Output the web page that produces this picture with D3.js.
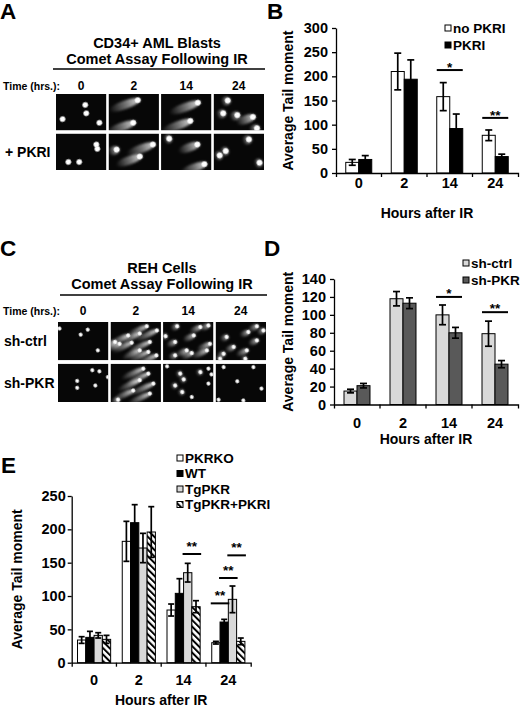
<!DOCTYPE html>
<html>
<head>
<meta charset="utf-8">
<script src="https://cdn.jsdelivr.net/npm/d3@7"></script>
<style>
  body { margin: 0; background: #fff; }
  text { font-family: "Liberation Sans", Arial, sans-serif; font-weight: bold; fill: #000; }
</style>
</head>
<body>
<div id="fig"></div>
<script>
// ---------- data ----------
var hours = ["0", "2", "14", "24"];

// panel A : comets as [x fraction, y fraction, tail length fraction]
var aRows = ["", "+ PKRI"];
var aNoPkri = [
  [[0.58, 0.30, 0], [0.60, 0.53, 0], [0.13, 0.69, 0], [0.86, 0.79, 0]],
  [[0.58, 0.17, 0.55], [0.49, 0.79, 0.5]],
  [[0.73, 0.24, 0.55], [0.58, 0.74, 0.55]],
  [[0.28, 0.18, 0.08], [0.19, 0.53, 0.08], [0.47, 0.58, 0.1], [0.78, 0.63, 0.3], [0.86, 0.94, 0.1]]
];
var aPkri = [
  [[0.80, 0.30, 0], [0.82, 0.42, 0], [0.245, 0.78, 0], [0.46, 0.78, 0]],
  [[0.16, 0.44, 0.12], [0.88, 0.30, 0.5], [0.62, 0.63, 0.45]],
  [[0.16, 0.14, 0.05], [0.72, 0.30, 0.35], [0.86, 0.84, 0.45]],
  [[0.70, 0.16, 0.08], [0.24, 0.48, 0.05], [0.12, 0.60, 0.05], [0.91, 0.80, 0.05]]
];

// panel B
var bSeries = ["no PKRI", "PKRI"];
var bMean = [[22, 210, 158, 78], [28, 194, 92, 34]];
var bErr = [[6, 38, 29, 11], [8, 40, 30, 5]];
var bTicks = [0, 50, 100, 150, 200, 250, 300];
var bSig = [{hour: "14", a: 0, b: 1, v: 213, label: "*"}, {hour: "24", a: 0, b: 1, v: 114, label: "**"}];

// panel C
var cRows = ["sh-ctrl", "sh-PKR"];
var cCtrl = [
  [[0.59, 0.2, 0], [0.45, 0.33, 0], [0.79, 0.74, 0], [0.03, 0.17, 0]],
  [[0.72, 0.11, 0.4], [0.92, 0.22, 0.45], [0.58, 0.30, 0.4], [0.35, 0.35, 0.35], [0.09, 0.52, 0.2], [0.42, 0.54, 0.4],
   [0.78, 0.52, 0.45], [0.58, 0.74, 0.35], [0.75, 0.78, 0.4], [0.91, 0.87, 0.4], [0.18, 0.57, 0.25]],
  [[0.28, 0.11, 0.1], [0.74, 0.13, 0.2], [0.90, 0.09, 0.15], [0.05, 0.37, 0.05], [0.61, 0.35, 0.2], [0.24, 0.52, 0.15],
   [0.93, 0.57, 0.25], [0.47, 0.74, 0.2], [0.87, 0.74, 0.3], [0.57, 0.81, 0.2], [0.24, 0.87, 0.1]],
  [[0.82, 0.11, 0.15], [0.65, 0.26, 0.15], [0.95, 0.22, 0.1], [0.22, 0.39, 0.1], [0.82, 0.48, 0.15], [0.36, 0.65, 0.15],
   [0.62, 0.74, 0.2], [0.16, 0.83, 0.1], [0.09, 0.96, 0.05], [0.59, 0.96, 0.05]]
];
var cPkr = [
  [[0.68, 0.17, 0], [0.82, 0.20, 0], [0.38, 0.45, 0], [0.38, 0.63, 0], [0.74, 0.57, 0], [0.99, 0.35, 0]],
  [[0.65, 0.13, 0.45], [0.75, 0.26, 0.45], [0.58, 0.43, 0.45], [0.85, 0.52, 0.5], [0.45, 0.70, 0.4], [0.78, 0.78, 0.45], [0.15, 0.94, 0.1]],
  [[0.08, 0.07, 0], [0.34, 0.26, 0.05], [0.74, 0.22, 0.05], [0.90, 0.13, 0], [0.96, 0.28, 0], [0.41, 0.41, 0.05],
   [0.24, 0.57, 0.05], [0.38, 0.74, 0.05], [0.57, 0.87, 0], [0.90, 0.52, 0]],
  [[0.16, 0.09, 0], [0.75, 0.09, 0], [0.43, 0.46, 0], [0.91, 0.65, 0], [0.06, 0.94, 0], [0.55, 0.96, 0]]
];

// panel D
var dSeries = ["sh-ctrl", "sh-PKR"];
var dMean = [[15, 118, 100, 79], [21, 113, 80, 45]];
var dErr = [[2, 8, 11, 14], [2.5, 6, 6, 4]];
var dTicks = [0, 20, 40, 60, 80, 100, 120, 140];
var dSig = [{hour: "14", a: 0, b: 1, v: 120, label: "*"}, {hour: "24", a: 0, b: 1, v: 103, label: "**"}];

// panel E
var eSeries = ["PKRKO", "WT", "TgPKR", "TgPKR+PKRI"];
var eMean = [[34, 182, 79, 30], [38, 210, 104, 61], [41, 172, 135, 95], [35, 196, 84, 32]];
var eErr = [[5, 30, 9, 2], [9, 27, 22, 4], [4, 22, 14, 20], [6, 38, 9, 5]];
var eTicks = [0, 50, 100, 150, 200, 250];
var eSig = [
  {hour: "14", a: 2, b: 3, v: 163, label: "**"},
  {hour: "24", a: 2, b: 3, v: 161, label: "**"},
  {hour: "24", a: 1, b: 2, v: 127, label: "**"},
  {hour: "24", a: 0, b: 1, v: 89, label: "**"}
];

// ---------- svg ----------
var svg = d3.select("#fig").append("svg").attr("width", 520).attr("height", 708);
var defs = svg.append("defs");

var pat = defs.append("pattern").attr("id", "hatch").attr("patternUnits", "userSpaceOnUse")
  .attr("width", 4.6).attr("height", 4.6).attr("patternTransform", "rotate(-45)");
pat.append("rect").attr("width", 4.6).attr("height", 4.6).attr("fill", "#fff");
pat.append("rect").attr("width", 2).attr("height", 4.6).attr("fill", "#000");

var grad = defs.append("linearGradient").attr("id", "tail");
grad.append("stop").attr("offset", "0").attr("stop-color", "#fff").attr("stop-opacity", 0.9);
grad.append("stop").attr("offset", "0.45").attr("stop-color", "#fff").attr("stop-opacity", 0.45);
grad.append("stop").attr("offset", "1").attr("stop-color", "#fff").attr("stop-opacity", 0);

defs.append("filter").attr("id", "blur").attr("x", "-50%").attr("y", "-150%").attr("width", "200%").attr("height", "400%")
  .append("feGaussianBlur").attr("stdDeviation", 1.3);
defs.append("filter").attr("id", "soft").attr("x", "-100%").attr("y", "-100%").attr("width", "300%").attr("height", "300%")
  .append("feGaussianBlur").attr("stdDeviation", 0.5);

function letter(t, x, y) {
  svg.append("text").attr("x", x).attr("y", y).attr("font-size", 22.5).text(t);
}

// micrograph panels
function drawComets(o) {
  var col = d3.scaleBand().domain(hours).range([o.x0, o.x1]).paddingInner(0.04);
  var row = d3.scaleBand().domain(o.rows).range([o.y0, o.y1]).paddingInner(0.08);

  o.title.forEach(function(t, i) {
    svg.append("text").attr("x", o.titleX).attr("y", o.titleY + i * 16)
      .attr("text-anchor", "middle").attr("font-size", 14.5).text(t);
  });
  svg.append("line").attr("x1", o.lineX0).attr("x2", o.x1 + 1).attr("y1", o.lineY).attr("y2", o.lineY)
    .attr("stroke", "#000").attr("stroke-width", 1.4);
  svg.append("text").attr("x", 3).attr("y", o.timeY).attr("font-size", 10.5).text("Time (hrs.):");
  svg.selectAll(null).data(hours).join("text")
    .attr("x", function(h) { return col(h) + col.bandwidth() / 2; })
    .attr("y", o.timeY).attr("text-anchor", "middle").attr("font-size", 12).text(function(h) { return h; });
  svg.selectAll(null).data(o.rows).join("text")
    .attr("x", o.rowLabelX).attr("y", function(r) { return row(r) + row.bandwidth() / 2 + 5; })
    .attr("font-size", 14).text(function(r) { return r; });

  o.rows.forEach(function(r, ri) {
    hours.forEach(function(h, hi) {
      var cx = col(h), cy = row(r), cw = col.bandwidth(), ch = row.bandwidth();
      var id = o.id + ri + "_" + hi;
      defs.append("clipPath").attr("id", id).append("rect")
        .attr("x", cx).attr("y", cy).attr("width", cw).attr("height", ch);
      var g = svg.append("g").attr("clip-path", "url(#" + id + ")");
      g.append("rect").attr("x", cx).attr("y", cy).attr("width", cw).attr("height", ch).attr("fill", "#070707");
      var fx = d3.scaleLinear().range([cx, cx + cw]);
      var fy = d3.scaleLinear().range([cy, cy + ch]);
      var c = g.selectAll("g.comet").data(o.comets[ri][hi]).join("g").attr("class", "comet")
        .attr("transform", function(d) { return "translate(" + fx(d[0]) + "," + fy(d[1]) + ") rotate(" + o.angle + ")"; });
      c.filter(function(d) { return d[2] > 0; }).append("ellipse")
        .attr("cx", function(d) { return d[2] * cw / 2; })
        .attr("rx", function(d) { return d[2] * cw / 2 + o.headR; })
        .attr("ry", o.headR * 1.5)
        .attr("fill", "url(#tail)").attr("filter", "url(#blur)");
      c.append("circle").attr("r", o.headR).attr("fill", "#fff").attr("filter", "url(#soft)");
    });
  });
}

// bar chart panels
function drawBars(o) {
  var x = d3.scaleBand().domain(hours).range([o.x0, o.x1]);
  var xs = d3.scaleBand().domain(d3.range(o.series.length)).range([0, x.bandwidth()]).paddingOuter(o.padOuter);
  var y = d3.scaleLinear().domain([0, o.yMax]).range([o.yBase, o.yTop]);
  var g = svg.append("g");
  var bw = xs.bandwidth();

  o.series.forEach(function(s, si) {
    g.append("g").selectAll("rect").data(hours).join("rect")
      .attr("x", function(h) { return x(h) + xs(si); })
      .attr("y", function(h, i) { return y(o.mean[si][i]); })
      .attr("width", bw)
      .attr("height", function(h, i) { return y(0) - y(o.mean[si][i]); })
      .attr("fill", o.fills[si]).attr("stroke", "#000").attr("stroke-width", 1);
  });

  o.series.forEach(function(s, si) {
    var eg = g.append("g").attr("stroke", "#000").attr("stroke-width", 1.7);
    hours.forEach(function(h, i) {
      var cx = x(h) + xs(si) + bw / 2;
      var lo = y(o.mean[si][i] - o.err[si][i]), hi = y(o.mean[si][i] + o.err[si][i]);
      eg.append("line").attr("x1", cx).attr("x2", cx).attr("y1", lo).attr("y2", hi);
      eg.append("line").attr("x1", cx - o.cap).attr("x2", cx + o.cap).attr("y1", lo).attr("y2", lo);
      eg.append("line").attr("x1", cx - o.cap).attr("x2", cx + o.cap).attr("y1", hi).attr("y2", hi);
    });
  });

  var ya = g.append("g").attr("transform", "translate(" + o.x0 + ",0)")
    .call(d3.axisLeft(y).tickValues(o.ticks).tickSize(4).tickSizeOuter(0).tickPadding(o.yPad));
  var xa = g.append("g").attr("transform", "translate(0," + y(0) + ")")
    .call(d3.axisBottom(x).tickSize(0).tickSizeOuter(4).tickPadding(o.xPad));
  xa.selectAll("line.bound").data(hours.slice(1)).join("line").attr("class", "bound")
    .attr("x1", function(h) { return x(h); }).attr("x2", function(h) { return x(h); })
    .attr("y1", 0).attr("y2", 4).attr("stroke", "#000").attr("stroke-width", 1.3);
  [ya, xa].forEach(function(a) {
    a.attr("font-family", null).attr("font-size", null);
    a.selectAll("path, line").attr("stroke", "#000").attr("stroke-width", 1.3);
    a.selectAll("text").attr("font-size", 14.5);
  });

  g.append("text").attr("x", (o.x0 + o.x1) / 2).attr("y", o.xTitleY).attr("text-anchor", "middle")
    .attr("font-size", 14).text("Hours after IR");
  g.append("text").attr("transform", "translate(" + o.yTitleX + "," + (o.yBase + o.yTop) / 2 + ") rotate(-90)")
    .attr("text-anchor", "middle").attr("font-size", 14).text("Average Tail moment");

  // significance bars
  var sg = g.selectAll("g.sig").data(o.sig).join("g").attr("class", "sig");
  sg.append("line")
    .attr("x1", function(d) { return x(d.hour) + xs(d.a) - o.sigExt; })
    .attr("x2", function(d) { return x(d.hour) + xs(d.b) + bw + o.sigExt; })
    .attr("y1", function(d) { return y(d.v); }).attr("y2", function(d) { return y(d.v); })
    .attr("stroke", "#000").attr("stroke-width", 2);
  sg.append("text")
    .attr("x", function(d) { return x(d.hour) + (xs(d.a) + xs(d.b) + bw) / 2; })
    .attr("y", function(d) { return y(d.v) + o.starDy; })
    .attr("text-anchor", "middle").attr("font-size", 13.5).text(function(d) { return d.label; });

  // legend
  var lg = g.selectAll("g.leg").data(o.series).join("g").attr("class", "leg")
    .attr("transform", function(d, i) { return "translate(" + o.legX + "," + (o.legY + i * o.legDy) + ")"; });
  lg.append("rect").attr("x", 0).attr("y", -3).attr("width", 6).attr("height", 6)
    .attr("fill", function(d, i) { return o.fills[i]; }).attr("stroke", "#000").attr("stroke-width", 1);
  lg.append("text").attr("x", 8).attr("y", 4.8).attr("font-size", 13.5).text(function(d) { return d; });
}

// ---------- panels ----------
letter("A", 0, 19);
drawComets({
  id: "ca", rows: aRows, comets: [aNoPkri, aPkri],
  x0: 56, x1: 264, y0: 94, y1: 170, headR: 2.8, angle: 160,
  title: ["CD34+ AML Blasts", "Comet Assay Following IR"], titleX: 157, titleY: 47.5,
  lineX0: 53, lineY: 69, timeY: 90, rowLabelX: 5
});

letter("B", 267, 19);
drawBars({
  series: bSeries, mean: bMean, err: bErr, ticks: bTicks, sig: bSig,
  fills: ["#fff", "#000"], x0: 336, x1: 518, yBase: 173, yTop: 28, yMax: 300,
  padOuter: 0.75, cap: 3.5, yPad: 4, xPad: 5, xTitleY: 218, yTitleX: 293,
  sigExt: 0, starDy: 2, legX: 445, legY: 28, legDy: 17
});

letter("C", 0, 256);
drawComets({
  id: "cc", rows: cRows, comets: [cCtrl, cPkr],
  x0: 58, x1: 266, y0: 322, y1: 402, headR: 1.9, angle: 155,
  title: ["REH Cells", "Comet Assay Following IR"], titleX: 162, titleY: 273,
  lineX0: 60, lineY: 295, timeY: 315, rowLabelX: 4
});

letter("D", 264, 256);
drawBars({
  series: dSeries, mean: dMean, err: dErr, ticks: dTicks, sig: dSig,
  fills: ["#d9d9d9", "#595959"], x0: 334, x1: 518, yBase: 404.5, yTop: 279, yMax: 140,
  padOuter: 0.77, cap: 3.5, yPad: 4, xPad: 13, xTitleY: 444, yTitleX: 293,
  sigExt: 0, starDy: 1, legX: 463, legY: 263, legDy: 17
});

letter("E", 1, 473);
drawBars({
  series: eSeries, mean: eMean, err: eErr, ticks: eTicks, sig: eSig,
  fills: ["#fff", "#000", "#d9d9d9", "url(#hatch)"], x0: 71.7, x1: 250.7, yBase: 662.7, yTop: 496, yMax: 250,
  padOuter: 0.7, cap: 3, yPad: 2, xPad: 12, xTitleY: 705, yTitleX: 22,
  sigExt: 1, starDy: -3, legX: 177, legY: 458, legDy: 15.5
});
</script>
</body>
</html>
